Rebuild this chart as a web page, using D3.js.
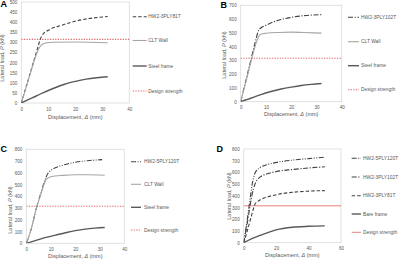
<!DOCTYPE html>
<html><head><meta charset="utf-8">
<script src="https://cdn.jsdelivr.net/npm/d3@7"></script>
<style>
html,body{margin:0;padding:0;background:#fff;}
svg{display:block;font-family:"Liberation Sans",Arial,sans-serif;}
</style></head>
<body>
<svg id="chart" width="400" height="259"></svg>
<script>
// ---------- DATA ----------
const designStrength = 315;
// Panel A
const A_disp_hw81 = [0,2,4,6,7,8,10,15,20,25,32];
const A_load_hw81 = [0,90,180,270,315,340,360,385,405,418,428];
const A_disp_clt  = [0,2,4,6,7,8,9,12,20,32];
const A_load_clt  = [0,85,175,255,280,292,297,301,302,298];
const A_disp_steel= [0,4,8,12,16,20,24,28,32];
const A_load_steel= [0,25,50,73,93,107,118,125,130];
// Panel B
const B_disp_hw102 = [0,2,4,6,7,8,10,15,20,25,32];
const B_load_hw102 = [0,150,300,450,515,535,555,592,612,625,632];
const B_disp_clt   = [0,2,4,6,7,8,10,15,20,25,32];
const B_load_clt   = [0,140,285,420,470,490,497,503,505,502,498];
const B_disp_steel = [0,4,8,12,16,20,24,28,32];
const B_load_steel = [0,25,52,74,92,106,118,126,132];
// Panel C
const C_disp_hw120 = [0,2,4,6,8,9,10,15,20,25,31];
const C_load_hw120 = [0,120,290,430,560,600,620,665,690,703,712];
const C_disp_clt   = [0,2,4,6,7,8,9,10,15,20,25,32];
const C_load_clt   = [0,120,290,420,490,540,558,566,578,583,583,579];
const C_disp_steel = [0,4,8,12,16,20,24,28,32];
const C_load_steel = [0,25,50,70,90,108,121,129,134];
// Panel D
const D_disp_hw120 = [0,2,4,5,6,7,10,15,20,30,40,50];
const D_load_hw120 = [0,180,380,480,550,595,640,668,685,705,718,730];
const D_disp_hw102 = [0,2,4,6,8,10,15,20,30,40,50];
const D_load_hw102 = [0,150,320,460,530,560,590,607,625,638,648];
const D_disp_hw81  = [0,2,4,6,7,8,10,15,20,30,40,50];
const D_load_hw81  = [0,90,190,290,330,345,365,392,410,430,440,445];
const D_disp_bare  = [0,5,10,20,30,40,50];
const D_load_bare  = [0,35,62,110,132,140,144];
// Axis ticks
const A_yTicks = [0,50,100,150,200,250,300,350,400,450,500];
const B_yTicks = [0,100,200,300,400,500,600,700];
const CD_yTicks = [0,100,200,300,400,500,600,700,800];
const ABC_xTicks = [0,10,20,30,40];
const D_xTicks = [0,20,40,60];
// Legend labels
const A_names = ["HW2-3PLY81T","CLT Wall","Steel frame","Design strength"];
const B_names = ["HW2-3PLY102T","CLT Wall","Steel frame","Design strength"];
const C_names = ["HW2-5PLY120T","CLT Wall","Steel frame","Design strength"];
const D_names = ["HW2-5PLY120T","HW2-3PLY102T","HW2-3PLY81T","Bare frame","Design strength"];

// ---------- STYLES ----------
const ST = {
  hw81:  {stroke:"#404040", w:1.1, dash:"3.5,2"},
  hw102: {stroke:"#404040", w:1.1, dash:"5,1.6,1.2,1.6"},
  hw120: {stroke:"#404040", w:1.1, dash:"5,1.5,1,1.5,1,1.5"},
  clt:   {stroke:"#a6a6a6", w:1.1, dash:null},
  steel: {stroke:"#595959", w:1.4, dash:null},
  dsDot: {stroke:"#e06a6a", w:1.1, dash:"1.3,1.3"},
  dsLine:{stroke:"#e57373", w:0.9, dash:null}
};

const svg = d3.select("#chart");
const zip = (xs, ys) => xs.map((x,i)=>[x, ys[i]]);

function panel(cfg){
  const g = svg.append("g");
  const x = d3.scaleLinear().domain(cfg.xDom).range([cfg.l, cfg.r]);
  const y = d3.scaleLinear().domain(cfg.yDom).range([cfg.b, cfg.t]);
  g.append("rect").attr("x",cfg.l).attr("y",cfg.t).attr("width",cfg.r-cfg.l).attr("height",cfg.b-cfg.t)
    .attr("fill","none").attr("stroke","#d9d9d9").attr("stroke-width",0.8);
  const ax = g.append("g").attr("transform",`translate(0,${cfg.b})`)
    .call(d3.axisBottom(x).tickValues(cfg.xTicks).tickSize(0).tickPadding(4.5));
  const ay = g.append("g").attr("transform",`translate(${cfg.l},0)`)
    .call(d3.axisLeft(y).tickValues(cfg.yTicks).tickSize(0).tickPadding(cfg.yPad||4));
  [ax,ay].forEach(a=>{
    a.select(".domain").remove();
    a.selectAll("text").attr("font-size",4.6).attr("fill","#595959").attr("font-family","Liberation Sans, Arial, sans-serif");
  });
  const xt = g.append("text").attr("x",(cfg.l+cfg.r)/2).attr("y",cfg.b+cfg.xtOff)
    .attr("text-anchor","middle").attr("font-size",5.5).attr("fill","#595959");
  xt.append("tspan").text("Displacement, ");
  xt.append("tspan").attr("font-style","italic").text("Δ");
  xt.append("tspan").text(" (mm)");
  const yt = g.append("text").attr("transform",`translate(${cfg.ytx},${cfg.yty}) rotate(-90)`)
    .attr("text-anchor","middle").attr("font-size",5.5).attr("fill","#595959");
  yt.append("tspan").text("Lateral load, ");
  yt.append("tspan").attr("font-style","italic").text("P");
  yt.append("tspan").text(" (kN)");
  g.append("text").attr("x",cfg.lx).attr("y",cfg.ly).attr("font-size",9).attr("font-weight","bold")
    .attr("fill","#000").text(cfg.letter);
  const clipId = "clip"+cfg.letter;
  g.append("clipPath").attr("id",clipId).append("rect")
    .attr("x",cfg.l).attr("y",cfg.t-2).attr("width",cfg.r-cfg.l).attr("height",cfg.b-cfg.t+2);
  const line = d3.line().x(d=>x(d[0])).y(d=>y(d[1])).curve(d3.curveMonotoneX);
  const plot = g.append("g").attr("clip-path",`url(#${clipId})`);
  const ds = cfg.dsStyle;
  plot.append("line").attr("x1",cfg.l).attr("x2",cfg.r).attr("y1",y(designStrength)).attr("y2",y(designStrength))
    .attr("stroke",ds.stroke).attr("stroke-width",ds.w).attr("stroke-dasharray",ds.dash);
  cfg.series.forEach(s=>{
    plot.append("path").datum(s.data).attr("d",line).attr("fill","none")
      .attr("stroke",s.st.stroke).attr("stroke-width",s.st.w).attr("stroke-dasharray",s.st.dash);
  });
  const legSt = cfg.series.map(s=>s.st).concat([ds]);
  cfg.names.forEach((n,i)=>{
    const yy = cfg.legY[i];
    const st = legSt[i];
    g.append("line").attr("x1",cfg.legX[0]).attr("x2",cfg.legX[1]).attr("y1",yy).attr("y2",yy)
      .attr("stroke",st.stroke).attr("stroke-width",st.w).attr("stroke-dasharray",st.dash);
    g.append("text").attr("x",cfg.legX[2]).attr("y",yy+1.7).attr("font-size",4.9).attr("fill","#595959").text(n);
  });
}

panel({letter:"A", lx:0.5, ly:7.3, l:21.3, r:129.3, t:2, b:103, xDom:[0,40], yDom:[0,500],
  xTicks:ABC_xTicks, yTicks:A_yTicks, xtOff:16, ytx:4, yty:58,
  dsStyle:ST.dsDot,
  series:[{data:zip(A_disp_hw81,A_load_hw81),st:ST.hw81},{data:zip(A_disp_clt,A_load_clt),st:ST.clt},{data:zip(A_disp_steel,A_load_steel),st:ST.steel}],
  names:A_names, legX:[132.7,146.7,148.3], legY:[16.7,40.5,66,91]});

panel({letter:"B", lx:220.5, ly:7.6, l:240.7, r:341.7, t:5.3, b:101.7, xDom:[0,40], yDom:[0,700],
  xTicks:ABC_xTicks, yTicks:B_yTicks, xtOff:14.5, ytx:225.5, yty:55,
  dsStyle:ST.dsDot,
  series:[{data:zip(B_disp_hw102,B_load_hw102),st:ST.hw102},{data:zip(B_disp_clt,B_load_clt),st:ST.clt},{data:zip(B_disp_steel,B_load_steel),st:ST.steel}],
  names:B_names, legX:[348,359,361], legY:[17.3,41.7,65.7,89.7]});

panel({letter:"C", lx:0.5, ly:152, l:26.3, r:124.3, t:149.3, b:243.3, xDom:[0,40], yDom:[0,800],
  xTicks:ABC_xTicks, yTicks:CD_yTicks, xtOff:14.3, ytx:11.5, yty:210,
  dsStyle:ST.dsDot,
  series:[{data:zip(C_disp_hw120,C_load_hw120),st:ST.hw120},{data:zip(C_disp_clt,C_load_clt),st:ST.clt},{data:zip(C_disp_steel,C_load_steel),st:ST.steel}],
  names:C_names, legX:[131,141,144], legY:[161.7,184.3,207.3,230]});

panel({letter:"D", lx:216.5, ly:152.2, l:243.7, r:341, t:149, b:242.7, xDom:[0,60], yDom:[0,800],
  xTicks:D_xTicks, yTicks:CD_yTicks, xtOff:14.5, ytx:230.5, yty:196,
  dsStyle:ST.dsLine,
  series:[{data:zip(D_disp_hw120,D_load_hw120),st:ST.hw120},{data:zip(D_disp_hw102,D_load_hw102),st:ST.hw102},{data:zip(D_disp_hw81,D_load_hw81),st:ST.hw81},{data:zip(D_disp_bare,D_load_bare),st:ST.steel}],
  names:D_names, legX:[351.7,361,363], legY:[158.3,177,195.7,214,232.3]});
</script>
</body></html>
